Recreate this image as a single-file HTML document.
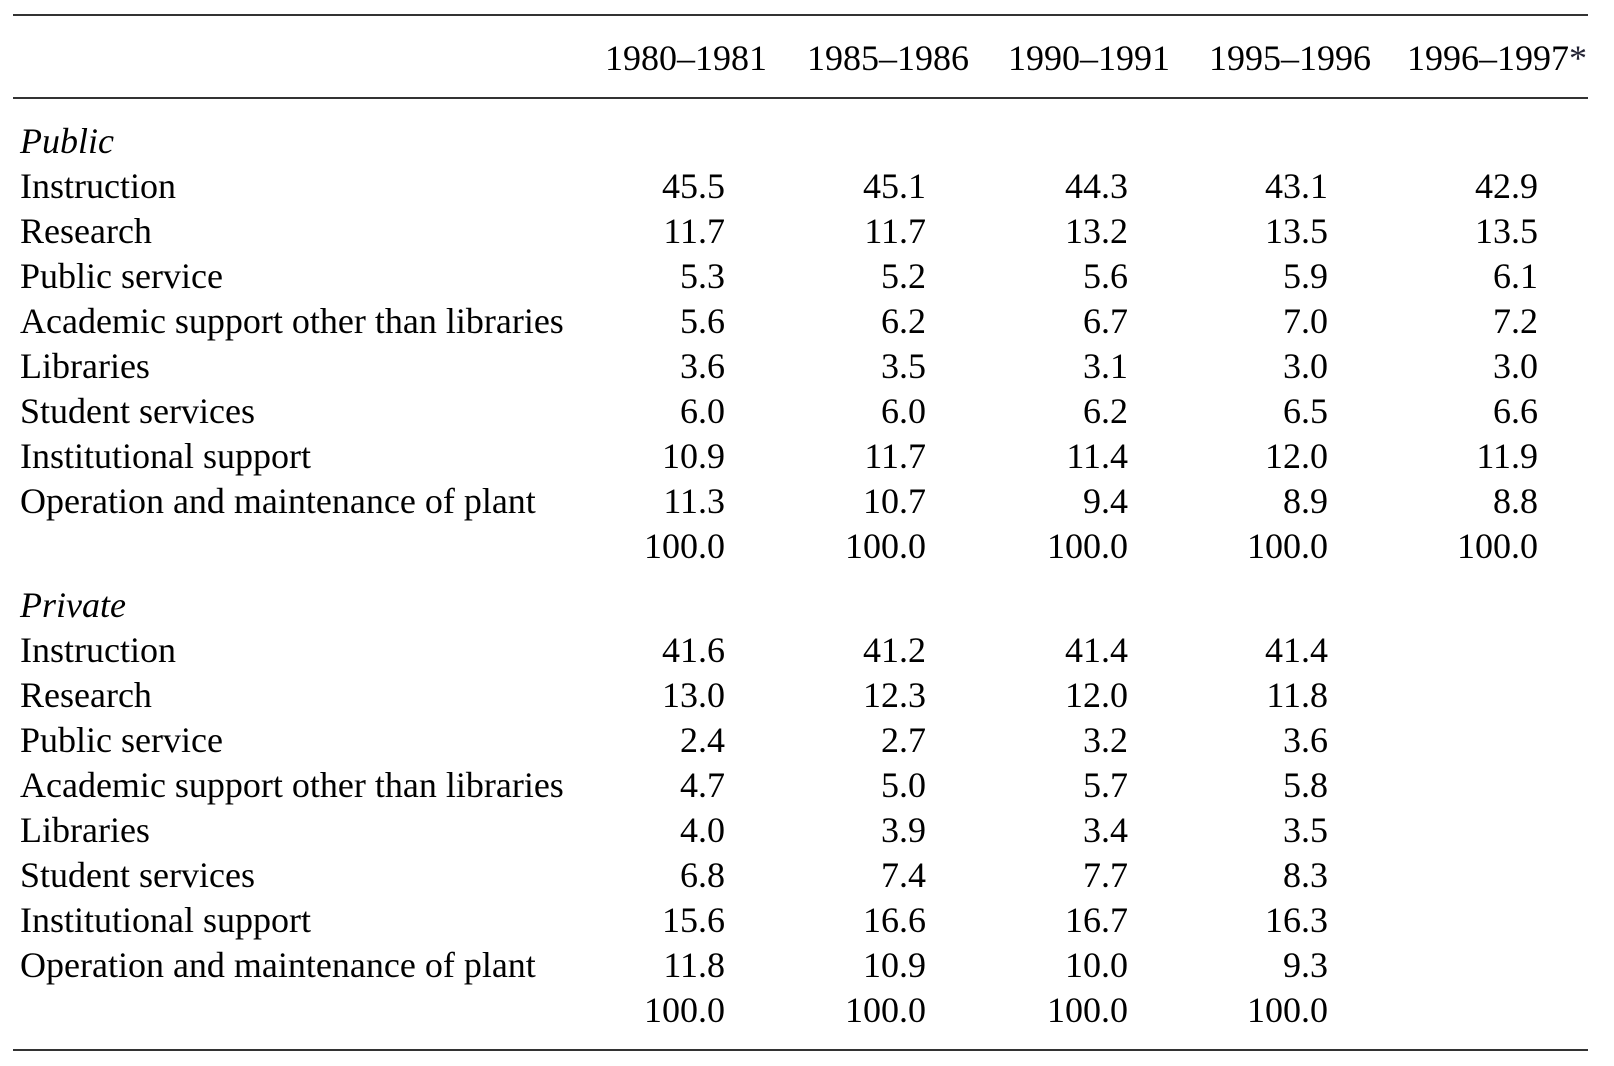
<!DOCTYPE html>
<html><head><meta charset="utf-8"><style>
body{margin:0;width:1614px;height:1066px;background:#fff;position:relative;overflow:hidden;font-family:"Liberation Serif",serif;font-size:36px;color:#000}
.ln{position:absolute;left:13px;width:1575px;height:2px;background:#333}
.r{position:absolute;left:0;width:1614px;height:44px;line-height:44px}
.r span{position:absolute;white-space:nowrap}
.l{left:20px}
.c1{right:889px}.c2{right:688px}.c3{right:486px}.c4{right:286px}.c5{right:76px}
.h span{transform:translateX(-50%)}
i{font-style:italic}
</style></head><body>
<div class="ln" style="top:14px"></div>
<div class="ln" style="top:97px"></div>
<div class="ln" style="top:1049px"></div>
<div class="r h" style="top:36px"><span style="left:686px">1980–1981</span><span style="left:888px">1985–1986</span><span style="left:1089px">1990–1991</span><span style="left:1290px">1995–1996</span><span style="left:1497px">1996–1997<span style="position:static;color:#223;transform:none">*</span></span></div>

<div class="r" style="top:119px"><span class="l"><i>Public</i></span></div>
<div class="r" style="top:164px"><span class="l">Instruction</span><span class="c1">45.5</span><span class="c2">45.1</span><span class="c3">44.3</span><span class="c4">43.1</span><span class="c5">42.9</span></div>
<div class="r" style="top:209px"><span class="l">Research</span><span class="c1">11.7</span><span class="c2">11.7</span><span class="c3">13.2</span><span class="c4">13.5</span><span class="c5">13.5</span></div>
<div class="r" style="top:254px"><span class="l">Public service</span><span class="c1">5.3</span><span class="c2">5.2</span><span class="c3">5.6</span><span class="c4">5.9</span><span class="c5">6.1</span></div>
<div class="r" style="top:299px"><span class="l">Academic support other than libraries</span><span class="c1">5.6</span><span class="c2">6.2</span><span class="c3">6.7</span><span class="c4">7.0</span><span class="c5">7.2</span></div>
<div class="r" style="top:344px"><span class="l">Libraries</span><span class="c1">3.6</span><span class="c2">3.5</span><span class="c3">3.1</span><span class="c4">3.0</span><span class="c5">3.0</span></div>
<div class="r" style="top:389px"><span class="l">Student services</span><span class="c1">6.0</span><span class="c2">6.0</span><span class="c3">6.2</span><span class="c4">6.5</span><span class="c5">6.6</span></div>
<div class="r" style="top:434px"><span class="l">Institutional support</span><span class="c1">10.9</span><span class="c2">11.7</span><span class="c3">11.4</span><span class="c4">12.0</span><span class="c5">11.9</span></div>
<div class="r" style="top:479px"><span class="l">Operation and maintenance of plant</span><span class="c1">11.3</span><span class="c2">10.7</span><span class="c3">9.4</span><span class="c4">8.9</span><span class="c5">8.8</span></div>
<div class="r" style="top:524px"><span class="c1">100.0</span><span class="c2">100.0</span><span class="c3">100.0</span><span class="c4">100.0</span><span class="c5">100.0</span></div>

<div class="r" style="top:583px"><span class="l"><i>Private</i></span></div>
<div class="r" style="top:628px"><span class="l">Instruction</span><span class="c1">41.6</span><span class="c2">41.2</span><span class="c3">41.4</span><span class="c4">41.4</span></div>
<div class="r" style="top:673px"><span class="l">Research</span><span class="c1">13.0</span><span class="c2">12.3</span><span class="c3">12.0</span><span class="c4">11.8</span></div>
<div class="r" style="top:718px"><span class="l">Public service</span><span class="c1">2.4</span><span class="c2">2.7</span><span class="c3">3.2</span><span class="c4">3.6</span></div>
<div class="r" style="top:763px"><span class="l">Academic support other than libraries</span><span class="c1">4.7</span><span class="c2">5.0</span><span class="c3">5.7</span><span class="c4">5.8</span></div>
<div class="r" style="top:808px"><span class="l">Libraries</span><span class="c1">4.0</span><span class="c2">3.9</span><span class="c3">3.4</span><span class="c4">3.5</span></div>
<div class="r" style="top:853px"><span class="l">Student services</span><span class="c1">6.8</span><span class="c2">7.4</span><span class="c3">7.7</span><span class="c4">8.3</span></div>
<div class="r" style="top:898px"><span class="l">Institutional support</span><span class="c1">15.6</span><span class="c2">16.6</span><span class="c3">16.7</span><span class="c4">16.3</span></div>
<div class="r" style="top:943px"><span class="l">Operation and maintenance of plant</span><span class="c1">11.8</span><span class="c2">10.9</span><span class="c3">10.0</span><span class="c4">9.3</span></div>
<div class="r" style="top:988px"><span class="c1">100.0</span><span class="c2">100.0</span><span class="c3">100.0</span><span class="c4">100.0</span></div>
</body></html>
